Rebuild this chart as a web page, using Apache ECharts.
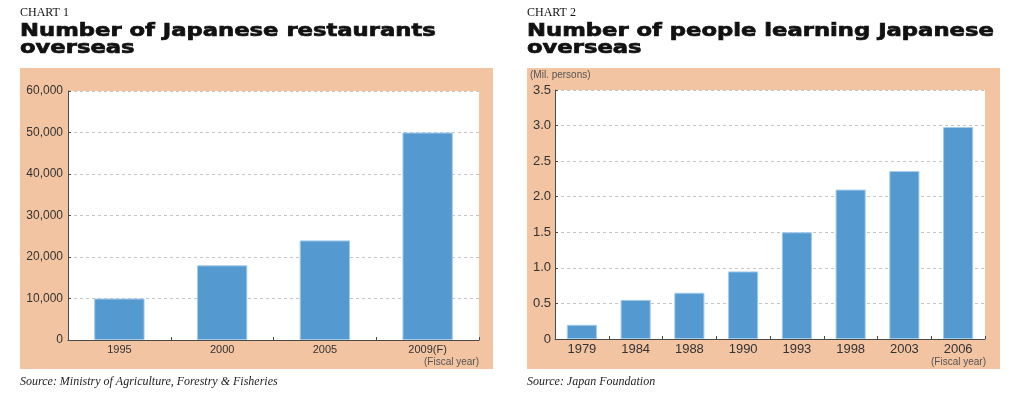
<!DOCTYPE html>
<html>
<head>
<meta charset="utf-8">
<script src="https://cdn.jsdelivr.net/npm/echarts@6/dist/echarts.min.js"></script>
<style>
  html, body { margin: 0; padding: 0; background: #fff; }
  #main { width: 1024px; height: 398px; }
</style>
</head>
<body>
<div id="main"></div>
<script>
// Chart 1: Japanese restaurants overseas
const restaurantYears = ["1995", "2000", "2005", "2009(F)"];
const restaurantCounts = [10000, 18000, 24000, 50000];

// Chart 2: people learning Japanese overseas (million persons)
const learnerYears = ["1979", "1984", "1988", "1990", "1993", "1998", "2003", "2006"];
const learnerMillions = [0.2, 0.55, 0.65, 0.95, 1.5, 2.1, 2.36, 2.98];

const PANEL = "#f2c4a2";
const BAR = "#5499d0";
const AXIS = "#4a4a4a";
const GRIDLINE = "#c4c4c4";

const chartContainer = echarts.init(document.getElementById("main"));

const barStyle = {
  color: BAR,
  borderColor: "#a3cbea",
  borderWidth: 1,
};

const valueAxis = (gridIndex, max, interval, fontSize, margin, formatter) => ({
  type: "value",
  gridIndex: gridIndex,
  min: 0,
  max: max,
  interval: interval,
  axisLine: { show: true, lineStyle: { color: AXIS, width: 1 } },
  axisTick: { show: true, inside: true, length: 3, lineStyle: { color: AXIS } },
  axisLabel: {
    color: "#333",
    fontSize: fontSize,
    fontFamily: "Liberation Sans",
    margin: margin,
    formatter: formatter,
  },
  splitLine: { show: true, lineStyle: { color: GRIDLINE, type: [3, 3] } },
});

const categoryAxis = (gridIndex, data, fontSize) => ({
  type: "category",
  gridIndex: gridIndex,
  data: data,
  axisLine: { show: true, lineStyle: { color: AXIS, width: 1 } },
  axisTick: { show: true, inside: true, length: 3, lineStyle: { color: AXIS } },
  axisLabel: {
    color: "#333",
    fontSize: fontSize,
    fontFamily: "Liberation Sans",
    margin: 4,
  },
});

// heavy headline text, widened to match the original's black face
const headline = (x, y, text) => ({
  type: "text",
  x: x,
  y: y,
  scaleX: 1.26,
  style: {
    text: text,
    font: 'bold 18px "DejaVu Sans"',
    fill: "#111",
    stroke: "#111",
    lineWidth: 0.7,
    verticalAlign: "middle",
  },
});

const note = (x, y, text, align) => ({
  type: "text",
  x: x,
  y: y,
  style: { text: text, font: '10px "Liberation Sans"', fill: "#555", align: align || "left" },
});

const source = (x, text) => ({
  type: "text",
  x: x,
  y: 376,
  style: { text: text, font: 'italic 12px "Liberation Serif"', fill: "#222" },
});

option = {
  animation: false,
  grid: [
    { left: 68, right: 545, top: 91, bottom: 58, show: true, backgroundColor: "#fff", borderWidth: 0 },
    { left: 555, right: 39, top: 90, bottom: 59, show: true, backgroundColor: "#fff", borderWidth: 0 },
  ],
  xAxis: [
    categoryAxis(0, restaurantYears, 11),
    categoryAxis(1, learnerYears, 13),
  ],
  yAxis: [
    valueAxis(0, 60000, 10000, 12, 5, (v) => v.toLocaleString("en-US")),
    valueAxis(1, 3.5, 0.5, 13, 4, (v) => (v === 0 ? "0" : v.toFixed(1))),
  ],
  series: [
    {
      type: "bar",
      xAxisIndex: 0,
      yAxisIndex: 0,
      barWidth: "49%",
      itemStyle: barStyle,
      data: restaurantCounts,
    },
    {
      type: "bar",
      xAxisIndex: 1,
      yAxisIndex: 1,
      barWidth: "56%",
      itemStyle: barStyle,
      data: learnerMillions,
    },
  ],
  graphic: [
    // salmon panels behind the plots
    { type: "rect", z: -10, shape: { x: 20, y: 68, width: 473, height: 301 }, style: { fill: PANEL } },
    { type: "rect", z: -10, shape: { x: 527, y: 68, width: 473, height: 301 }, style: { fill: PANEL } },

    // headings
    { type: "text", x: 20, y: 7, style: { text: "CHART 1", font: '12px "Liberation Serif"', fill: "#111" } },
    { type: "text", x: 527, y: 7, style: { text: "CHART 2", font: '12px "Liberation Serif"', fill: "#111" } },
    headline(20, 31.5, "Number of Japanese restaurants"),
    headline(20, 48.5, "overseas"),
    headline(527, 31.5, "Number of people learning Japanese"),
    headline(527, 48.5, "overseas"),

    // units
    note(530, 70, "(Mil. persons)"),
    note(479, 357, "(Fiscal year)", "right"),
    note(986, 357, "(Fiscal year)", "right"),

    // sources
    source(20, "Source: Ministry of Agriculture, Forestry & Fisheries"),
    source(527, "Source: Japan Foundation"),
  ],
};

chartContainer.setOption(option);
</script>
</body>
</html>
